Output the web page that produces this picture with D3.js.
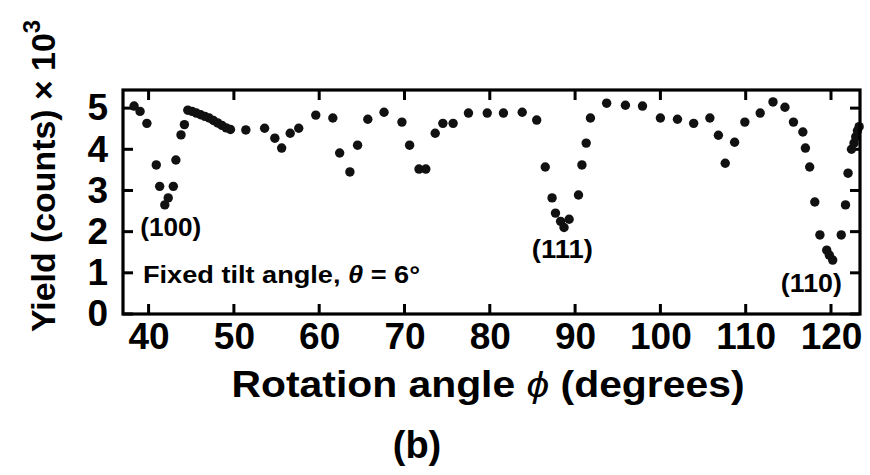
<!DOCTYPE html>
<html>
<head>
<meta charset="utf-8">
<script src="https://cdn.jsdelivr.net/npm/d3@7"></script>
<style>
  html, body { margin: 0; padding: 0; background: #fff; }
  svg { display: block; }
  text { font-family: "Liberation Sans", Arial, Helvetica, sans-serif; font-weight: bold; fill: #000; }
</style>
</head>
<body>
<svg id="chart" width="870" height="475"></svg>
<script>
// Rotation angle (degrees) for each measurement
const angles = [
  38.3, 39.0, 39.8, 40.9, 41.3, 41.9, 42.3, 42.9, 43.2, 43.8, 44.2,
  44.6, 45.1, 45.6, 46.1, 46.6, 47.1, 47.6, 48.1, 48.6, 49.1, 49.6,
  51.4, 53.6, 54.8, 55.6, 56.6, 57.6, 59.6, 61.6, 62.4, 63.6, 64.5, 65.7,
  67.6, 69.7, 70.6, 71.7, 72.5, 73.6, 74.5, 75.7, 77.5, 79.7, 81.6, 83.8,
  85.5, 86.5, 87.3, 87.7, 88.3, 88.7, 89.3, 90.4, 90.8, 91.3, 91.8,
  93.7, 95.9, 97.9, 100.0, 102.0, 103.9, 105.8, 106.8, 107.6, 108.7, 109.9,
  111.7, 113.2, 114.6, 115.6, 116.7, 117.0, 117.5, 118.1, 118.7, 119.5, 119.8,
  120.2, 121.2, 121.7, 122.0, 122.4, 122.7, 122.9, 123.1, 123.3
];
// Yield (counts × 10^3) at each angle
const yields = [
  5.05, 4.92, 4.63, 3.62, 3.10, 2.65, 2.82, 3.10, 3.74, 4.35, 4.60,
  4.95, 4.92, 4.88, 4.84, 4.80, 4.76, 4.70, 4.64, 4.58, 4.52, 4.48,
  4.47, 4.51, 4.27, 4.03, 4.39, 4.51, 4.83, 4.76, 3.91, 3.45, 4.10, 4.73,
  4.90, 4.66, 4.10, 3.52, 3.52, 4.39, 4.63, 4.63, 4.88, 4.88, 4.88, 4.90,
  4.71, 3.57, 2.82, 2.45, 2.25, 2.10, 2.30, 2.89, 3.62, 4.15, 4.76,
  5.12, 5.07, 5.05, 4.76, 4.73, 4.63, 4.76, 4.34, 3.66, 4.17, 4.66,
  4.88, 5.15, 5.02, 4.66, 4.42, 4.03, 3.57, 2.72, 1.92, 1.55, 1.43,
  1.31, 1.92, 2.65, 3.42, 4.00, 4.15, 4.30, 4.45, 4.55
];

const xTicks = [40, 50, 60, 70, 80, 90, 100, 110, 120];
const yTicks = [0, 1, 2, 3, 4, 5];

// Channeling minima labels
const dipLabels = ["(100)", "(111)", "(110)"];
const dipAngles = [42.6, 88.5, 117.7];
const dipYields = [1.89, 1.36, 0.53];

const note = "Fixed tilt angle, ";

const points = angles.map((a, i) => ({ a, v: yields[i] }));

const svg = d3.select("#chart");
const margin = { left: 123, top: 90, right: 10, bottom: 161 };
const W = 870 - margin.left - margin.right;
const H = 475 - margin.top - margin.bottom;

const x = d3.scaleLinear().domain([37.0, 123.4]).range([0, W]);
const y = d3.scaleLinear().domain([0, 5.44]).range([H, 0]);

const g = svg.append("g").attr("transform", `translate(${margin.left},${margin.top})`);

// tick labels from the axis generators
const fmt = d3.format("d");
const axBottom = g.append("g").attr("transform", `translate(0,${H})`)
  .call(d3.axisBottom(x).tickValues(xTicks).tickFormat(fmt).tickSize(0).tickPadding(9));
const axLeft = g.append("g")
  .call(d3.axisLeft(y).tickValues(yTicks).tickFormat(fmt).tickSize(0).tickPadding(15));
[axBottom, axLeft].forEach(ax => {
  ax.select(".domain").remove();
  ax.selectAll(".tick line").remove();
  ax.selectAll(".tick text").attr("font-size", 37).attr("fill", "#000");
});

// inward tick marks on all four sides, drawn as thin filled bars
const tickLen = 10, tickW = 3;
const tickMarks = g.append("g").attr("fill", "#000");
tickMarks.selectAll(".xb").data(xTicks).join("rect").attr("class", "xb")
  .attr("x", d => x(d) - tickW / 2).attr("y", H - tickLen).attr("width", tickW).attr("height", tickLen);
tickMarks.selectAll(".xt").data(xTicks).join("rect").attr("class", "xt")
  .attr("x", d => x(d) - tickW / 2).attr("y", 0).attr("width", tickW).attr("height", tickLen);
tickMarks.selectAll(".yl").data(yTicks).join("rect").attr("class", "yl")
  .attr("x", 0).attr("y", d => y(d) - tickW / 2).attr("width", tickLen).attr("height", tickW);
tickMarks.selectAll(".yr").data(yTicks).join("rect").attr("class", "yr")
  .attr("x", W - tickLen).attr("y", d => y(d) - tickW / 2).attr("width", tickLen).attr("height", tickW);

// data points
g.append("g").selectAll("circle").data(points).join("circle")
  .attr("cx", d => x(d.a))
  .attr("cy", d => y(d.v))
  .attr("r", 4.7)
  .attr("fill", "#111");

// frame
g.append("rect").attr("x", 0).attr("y", 0).attr("width", W).attr("height", H)
  .attr("fill", "none").attr("stroke", "#000").attr("stroke-width", 3.2);

// dip labels
g.append("g").selectAll("text").data(dipLabels).join("text")
  .attr("x", (d, i) => x(dipAngles[i]))
  .attr("y", (d, i) => y(dipYields[i]))
  .attr("text-anchor", "middle")
  .attr("font-size", 25)
  .attr("textLength", 61).attr("lengthAdjust", "spacingAndGlyphs")
  .text(d => d);

// annotation
const ann = g.append("text").attr("x", 20).attr("y", y(0.75)).attr("font-size", 24)
  .attr("textLength", 277).attr("lengthAdjust", "spacingAndGlyphs");
ann.append("tspan").text(note);
ann.append("tspan").attr("font-style", "italic").text("θ");
ann.append("tspan").text(" = 6°");

// axis titles
svg.append("text").attr("x", 488).attr("y", 397).attr("text-anchor", "middle")
  .attr("font-size", 36).attr("textLength", 513).attr("lengthAdjust", "spacingAndGlyphs")
  .html('Rotation angle <tspan font-style="italic" font-weight="normal">ϕ</tspan> (degrees)');

const yt = svg.append("text")
  .attr("transform", "translate(55,332) rotate(-90)")
  .attr("font-size", 34).attr("textLength", 312).attr("lengthAdjust", "spacingAndGlyphs");
yt.append("tspan").text("Yield (counts) × 10");
yt.append("tspan").attr("dy", -15).attr("font-size", 24).text("3");

svg.append("text").attr("x", 417).attr("y", 458).attr("text-anchor", "middle")
  .attr("font-size", 38).text("(b)");
</script>
</body>
</html>
